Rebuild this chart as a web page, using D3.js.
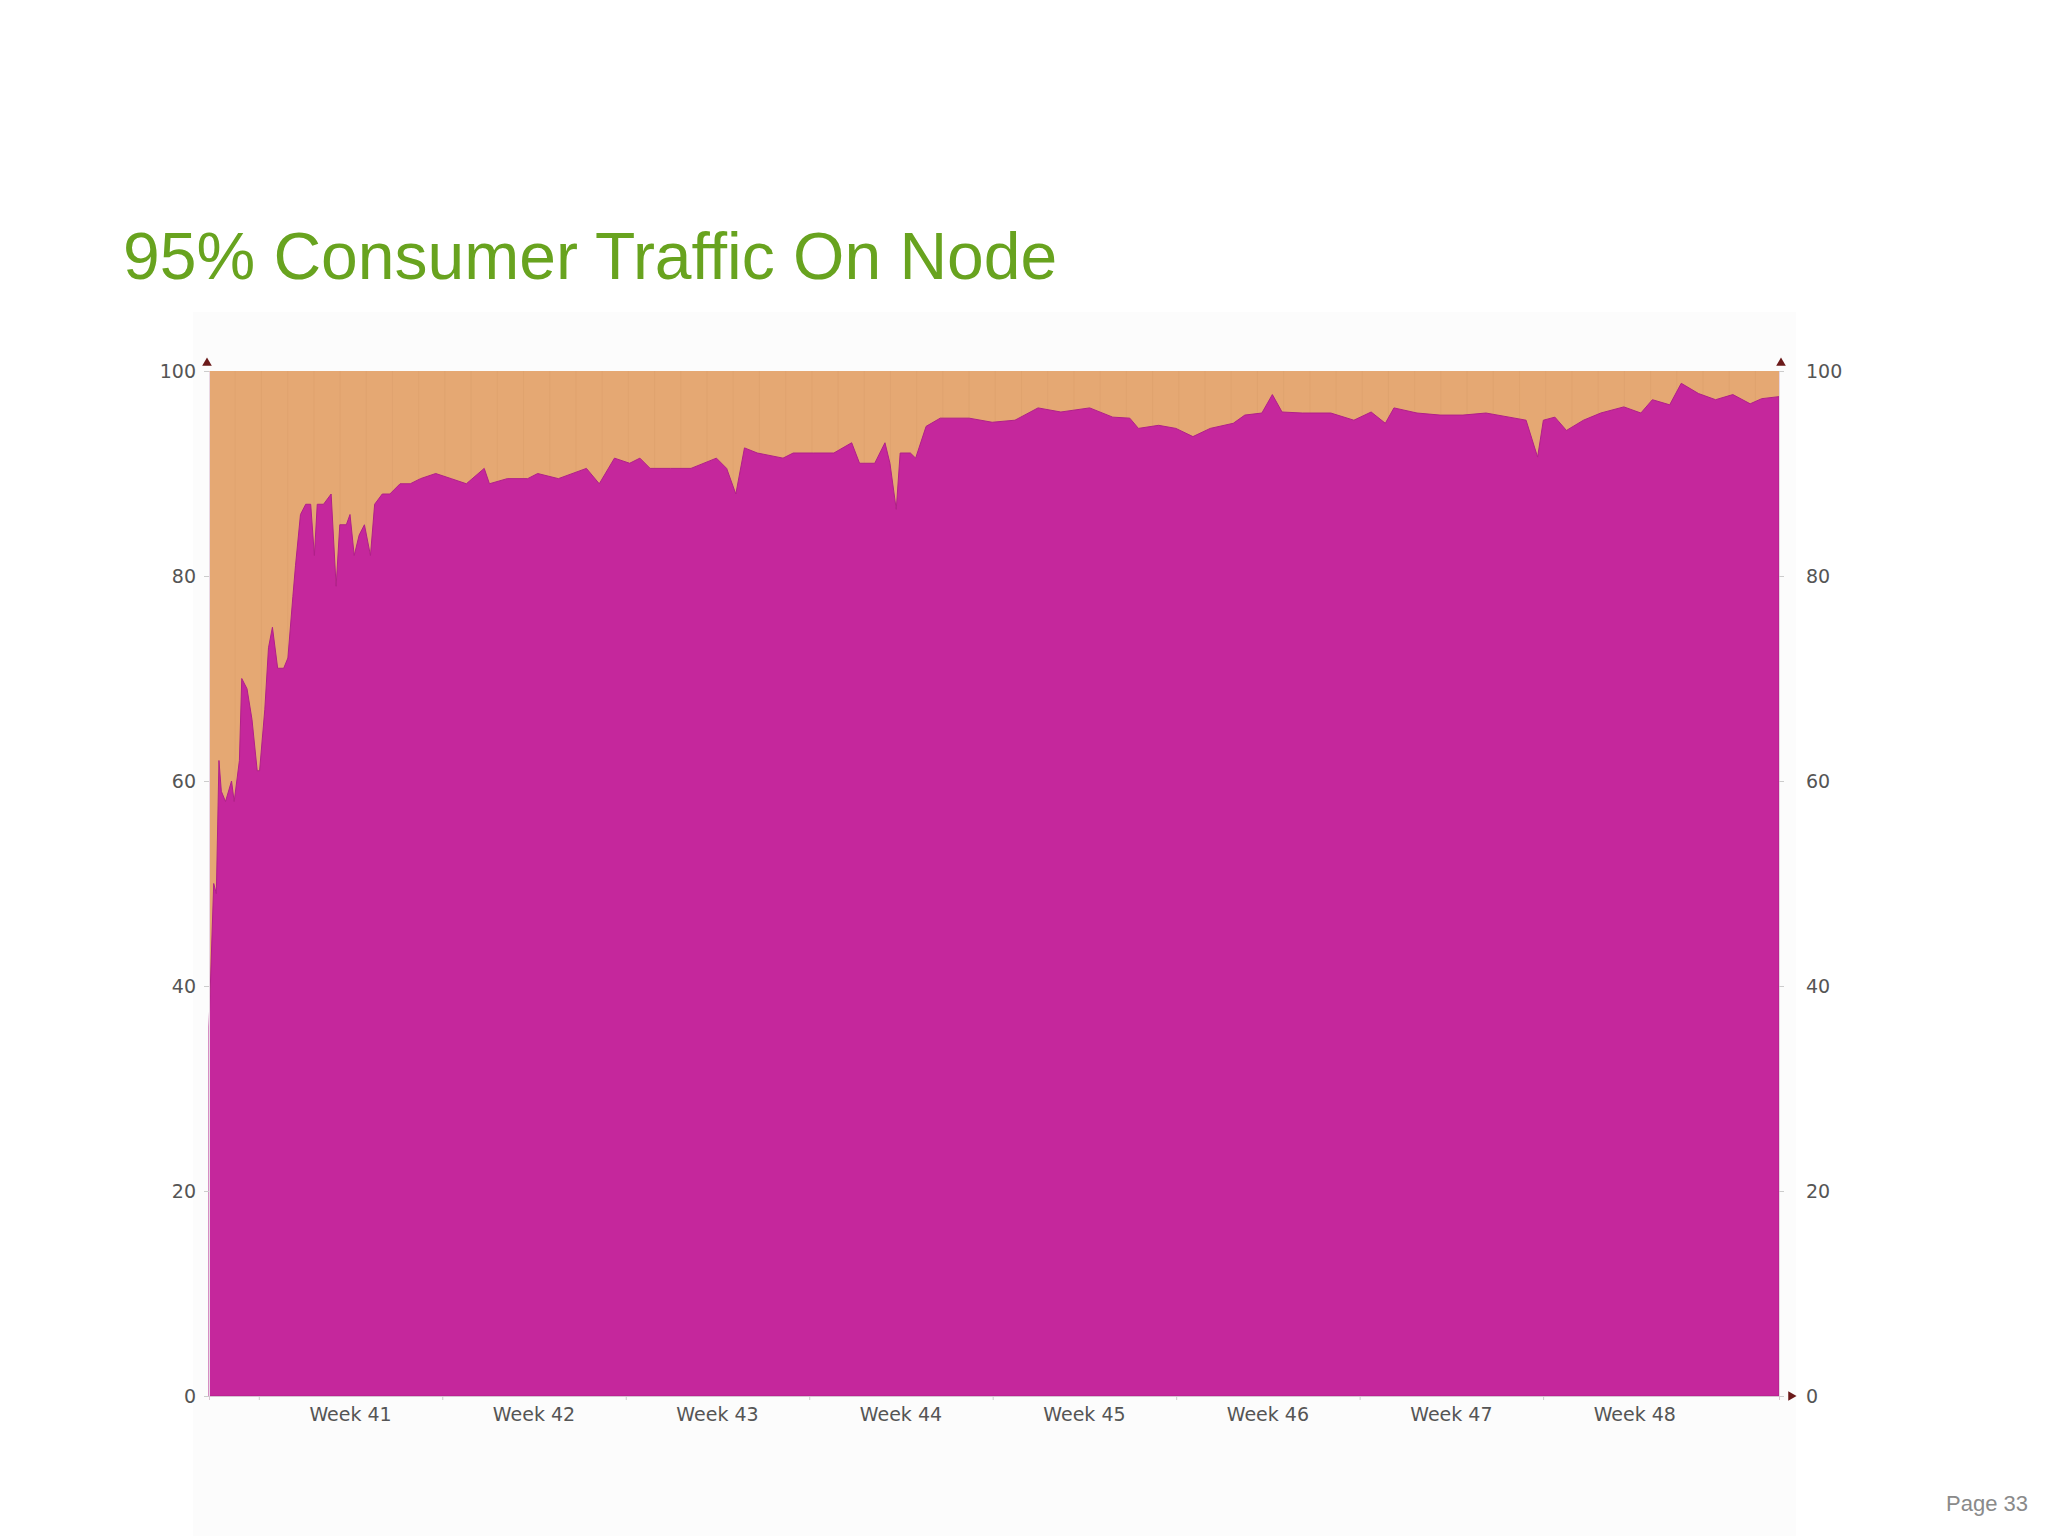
<!DOCTYPE html>
<html>
<head>
<meta charset="utf-8">
<script src="https://cdnjs.cloudflare.com/ajax/libs/d3/7.8.5/d3.min.js"></script>
<style>
  body { margin: 0; background: #fff; }
  svg { display: block; font-family: "Liberation Sans", Arial, sans-serif; }
</style>
</head>
<body>
<svg id="chart" width="2048" height="1536"></svg>
<script>
'use strict';

// days since start of chart, and share of consumer traffic on node (%)
var days = [0, 0.18, 0.28, 0.38, 0.47, 0.63, 0.86, 0.96, 1.16, 1.25, 1.45, 1.64, 1.84, 1.93, 2.13, 2.27,
    2.42, 2.62, 2.85, 3.01, 3.2, 3.3, 3.49, 3.69, 3.88, 4.02, 4.13, 4.37, 4.66, 4.85, 4.99, 5.24, 5.38,
    5.54, 5.73, 5.93, 6.16, 6.32, 6.61, 6.9, 7.29, 7.68, 8.07, 8.65, 9.24, 9.82, 10.5, 10.7, 11.38,
    12.16, 12.54, 13.33, 14.4, 14.89, 15.47, 16.05, 16.44, 16.83, 17.61, 18.39, 19.36, 19.75, 20.1,
    20.43, 20.92, 21.9, 22.29, 23.06, 23.84, 24.52, 24.82, 25.4, 25.79, 25.98, 26.22, 26.37, 26.76,
    26.96, 27.36, 27.9, 29, 29.88, 30.75, 31.63, 32.5, 33.6, 34.48, 35.13, 35.46, 36.23, 36.89, 37.54,
    38.2, 39.08, 39.52, 40.17, 40.57, 40.94, 41.71, 42.8, 43.68, 44.34, 44.88, 45.21, 46.09, 46.97,
    47.84, 48.72, 49.6, 50.25, 50.69, 50.91, 51.35, 51.79, 52.44, 53.1, 53.98, 54.63, 55.07, 55.73,
    56.17, 56.83, 57.48, 58.14, 58.8, 59.24, 59.9];
var consumerPct = [36, 50, 49, 62, 59, 58, 60, 58, 62, 70, 69, 66, 61, 61, 67, 73,
    75, 71, 71, 72, 78, 81, 86, 87, 87, 82, 87, 87, 88, 79, 85, 85, 86,
    82, 84, 85, 82, 87, 88, 88, 89, 89, 89.5, 90, 89.5, 89, 90.5, 89, 89.5,
    89.5, 90, 89.5, 90.5, 89, 91.5, 91, 91.5, 90.5, 90.5, 90.5, 91.5, 90.5, 88,
    92.5, 92, 91.5, 92, 92, 92, 93, 91, 91, 93, 91, 86.5, 92, 92,
    91.5, 94.6, 95.4, 95.4, 95, 95.2, 96.4, 96, 96.4, 95.5, 95.4, 94.4, 94.7, 94.4, 93.6,
    94.4, 94.9, 95.7, 95.9, 97.7, 96, 95.9, 95.9, 95.2, 96, 94.9, 96.4, 95.9, 95.7,
    95.7, 95.9, 95.5, 95.2, 91.6, 95.2, 95.5, 94.2, 95.2, 95.9, 96.5, 95.9, 97.2, 96.7,
    98.8, 97.8, 97.2, 97.7, 96.8, 97.3, 97.5];
var weekLabels = ['Week 41', 'Week 42', 'Week 43', 'Week 44', 'Week 45', 'Week 46', 'Week 47', 'Week 48'];
var weekStartDay = 1.9;
var yTicks = [0, 20, 40, 60, 80, 100];

var svg = d3.select('#chart');
var margin = { left: 209, right: 2048 - 1779, top: 371, bottom: 1536 - 1396 };
var width = 2048 - margin.left - margin.right;
var height = 1536 - margin.top - margin.bottom;

var x = d3.scaleLinear().domain([0, 59.9]).range([0, width]);
var y = d3.scaleLinear().domain([0, 100]).range([height, 0]);

svg.append('rect').attr('x', 193).attr('y', 312).attr('width', 1603).attr('height', 1224).attr('fill', '#fcfcfc');

svg.append('text')
    .attr('x', 123).attr('y', 279)
    .attr('fill', '#68a31f')
    .style('font-size', '66px')
    .text('95% Consumer Traffic On Node');

svg.append('text')
    .attr('x', 2028).attr('y', 1511)
    .attr('text-anchor', 'end')
    .attr('fill', '#8a8a8a')
    .style('font-size', '22px')
    .text('Page 33');

var g = svg.append('g').attr('transform', 'translate(' + margin.left + ',' + margin.top + ')');

// everything not on node
g.append('rect').attr('width', width).attr('height', height).attr('fill', '#e5a873');

// faint daily stripes
g.selectAll('line.day').data(d3.range(1, 60)).enter().append('line')
    .attr('class', 'day')
    .attr('x1', function(d) { return x(d); }).attr('x2', function(d) { return x(d); })
    .attr('y1', 0).attr('y2', height)
    .attr('stroke', '#d89a66').attr('stroke-opacity', 0.35);

var points = days.map(function(d, i) { return [d, consumerPct[i]]; });
var area = d3.area()
    .x(function(d) { return x(d[0]); })
    .y0(height)
    .y1(function(d) { return y(d[1]); });

g.append('path').datum(points)
    .attr('d', area)
    .attr('fill', '#c5279c')
    .attr('stroke', '#b0208a').attr('stroke-width', 1);

var labelColor = '#555';

var leftAxis = g.append('g').call(d3.axisLeft(y).tickValues(yTicks).tickSize(5).tickPadding(8));
var rightAxis = g.append('g').attr('transform', 'translate(' + width + ',0)')
    .call(d3.axisRight(y).tickValues(yTicks).tickSize(5).tickPadding(22));
[leftAxis, rightAxis].forEach(function(a) {
    a.select('.domain').attr('stroke', '#e8d7e3');
    a.selectAll('.tick line').attr('stroke', '#ccc');
    a.selectAll('text').attr('fill', labelColor).style('font-size', '19px').style('font-family', '"DejaVu Sans", sans-serif');
});

var weekTicks = weekLabels.map(function(w, i) { return weekStartDay + 7 * i; });
var xAxis = g.append('g').attr('transform', 'translate(0,' + height + ')')
    .call(d3.axisBottom(x).tickValues(weekTicks).tickSize(4).tickFormat(''));
xAxis.select('.domain').attr('stroke', '#d8c4d2');
xAxis.selectAll('.tick line').attr('stroke', '#ccc');

g.selectAll('text.week').data(weekLabels).enter().append('text')
    .attr('class', 'week')
    .attr('x', function(d, i) { return x(weekStartDay + 7 * i + 3.5); })
    .attr('y', height + 25)
    .attr('text-anchor', 'middle')
    .attr('fill', labelColor)
    .style('font-size', '19px')
    .style('font-family', '"DejaVu Sans", sans-serif')
    .text(function(d) { return d; });

// axis arrows
var arrow = d3.symbol().type(d3.symbolTriangle).size(40);
g.append('path').attr('d', arrow).attr('transform', 'translate(-2,-8)').attr('fill', '#6b1a1a');
g.append('path').attr('d', arrow).attr('transform', 'translate(' + (width + 2) + ',-8)').attr('fill', '#6b1a1a');
g.append('path').attr('d', arrow).attr('transform', 'translate(' + (width + 12) + ',' + height + ') rotate(90)').attr('fill', '#6b1a1a');
</script>
</body>
</html>
